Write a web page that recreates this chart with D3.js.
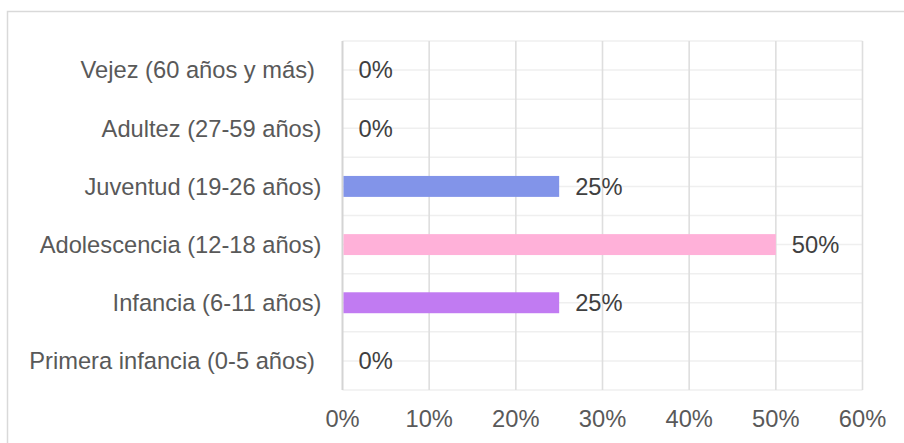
<!DOCTYPE html>
<html>
<head>
<meta charset="utf-8">
<script src="https://cdn.jsdelivr.net/npm/d3@7/dist/d3.min.js"></script>
<style>
  html, body { margin: 0; padding: 0; background: #fff; }
  svg { display: block; font-family: "Liberation Sans", Arial, sans-serif; }
  text { white-space: pre; }
</style>
</head>
<body>
<svg id="chart" width="904" height="443"></svg>
<script>
// Data (top to bottom as displayed)
const categories = [
  "Vejez (60 años y más) ",
  "Adultez (27-59 años)",
  "Juventud (19-26 años)",
  "Adolescencia (12-18 años)",
  "Infancia (6-11 años)",
  "Primera infancia (0-5 años) "
];
const values = [0, 0, 0.25, 0.50, 0.25, 0];
const barColors = ["#8294e9", "#8294e9", "#8294e9", "#ffb1d9", "#c17bf2", "#c17bf2"];
const xTicks = [0, 0.1, 0.2, 0.3, 0.4, 0.5, 0.6];
const xTickLabels = ["0%", "10%", "20%", "30%", "40%", "50%", "60%"];

const svg = d3.select("#chart");
const plot = { left: 342.5, right: 862.5, top: 41, bottom: 390 };
const fs = 23.7;

// outer frame
svg.append("rect")
  .attr("x", 7.5).attr("y", 11.5)
  .attr("width", 1000).attr("height", 1000)
  .attr("fill", "none").attr("stroke", "#d9d9d9").attr("stroke-width", 1.5);

const x = d3.scaleLinear().domain([0, 0.6]).range([plot.left, plot.right]);
const y = d3.scaleBand().domain(categories).range([plot.top, plot.bottom])
  .paddingInner(0.64).paddingOuter(0.32);

const step = y.step();
const bw = y.bandwidth();
const gap = (step - bw) / 2;

// horizontal gridlines at band boundaries and band centers
const hLines = [];
categories.forEach(c => {
  hLines.push(y(c) - gap);
  hLines.push(y(c) + bw / 2);
});
hLines.push(plot.bottom);
svg.append("g").selectAll("line").data(hLines).join("line")
  .attr("x1", plot.left).attr("x2", plot.right)
  .attr("y1", d => d).attr("y2", d => d)
  .attr("stroke", "#efefef").attr("stroke-width", 1.5);

// vertical gridlines
svg.append("g").selectAll("line").data(xTicks).join("line")
  .attr("x1", d => x(d)).attr("x2", d => x(d))
  .attr("y1", plot.top).attr("y2", plot.bottom)
  .attr("stroke", (d, i) => i === 0 ? "#d4d4d4" : "#dedede")
  .attr("stroke-width", (d, i) => i === 0 ? 2 : 1.6);

// bars
svg.append("g").selectAll("rect").data(categories).join("rect")
  .attr("x", x(0) + 1)
  .attr("y", d => y(d))
  .attr("width", (d, i) => Math.max(0, x(values[i]) - x(0) - 1))
  .attr("height", bw)
  .attr("fill", (d, i) => barColors[i]);

// value labels
svg.append("g").selectAll("text").data(categories).join("text")
  .attr("x", (d, i) => x(values[i]) + 16)
  .attr("y", d => y(d) + bw / 2)
  .attr("dy", "0.35em")
  .attr("font-size", fs)
  .attr("fill", "#404040")
  .text((d, i) => Math.round(values[i] * 100) + "%");

// category labels
svg.append("g").selectAll("text").data(categories).join("text")
  .attr("x", plot.left - 21)
  .attr("y", d => y(d) + bw / 2)
  .attr("dy", "0.35em")
  .attr("text-anchor", "end")
  .attr("font-size", fs)
  .attr("fill", "#595959")
  .text(d => d);

// x axis tick labels
svg.append("g").selectAll("text").data(xTicks).join("text")
  .attr("x", d => x(d))
  .attr("y", 419)
  .attr("dy", "0.35em")
  .attr("text-anchor", "middle")
  .attr("font-size", fs)
  .attr("fill", "#595959")
  .text((d, i) => xTickLabels[i]);
</script>
</body>
</html>
